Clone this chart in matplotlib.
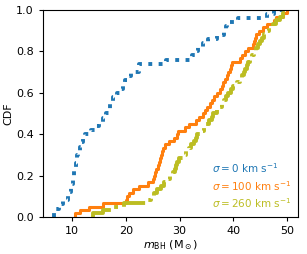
import numpy as np
import matplotlib
matplotlib.use("Agg")
import matplotlib.pyplot as plt

# sorted BH masses (Msun) for each velocity dispersion
m_sig0 = [6.7, 6.9, 7.5, 8.3, 9.3, 9.6, 9.8, 10.0, 10.1, 10.2,
          10.4, 10.6, 10.8, 10.9, 11.0, 11.2, 11.4, 11.7, 12.0, 12.5,
          13.5, 14.3, 15.0, 15.8, 16.3, 16.8, 17.0, 17.1, 17.6, 18.4,
          19.0, 19.5, 19.9, 20.3, 21.0, 22.4, 22.5, 27.5, 32.4, 32.8,
          33.5, 34.4, 35.2, 37.0, 38.2, 38.7, 38.9, 40.9, 46.3, 47.5]
m_sig100 = [10.5, 11.5, 13.2, 15.8, 20.0, 20.2, 20.6, 21.3, 22.5, 24.1,
            25.0, 25.2, 25.5, 25.7, 25.9, 26.1, 26.4, 26.6, 26.75, 26.85,
            27.3, 28.0, 29.0, 29.6, 29.8, 31.0, 31.8, 33.0, 33.6, 34.4,
            34.7, 35.1, 35.6, 36.0, 36.5, 37.0, 37.5, 37.9, 38.05, 38.4,
            38.8, 39.1, 39.4, 39.6, 39.8, 41.2, 41.7, 42.2, 42.7, 43.6,
            43.9, 44.1, 44.3, 44.8, 45.5, 46.2, 47.5, 48.0, 49.2, 50.0]
m_sig260 = [13.9, 15.8, 17.3, 19.6, 24.1, 24.6, 25.2, 25.8, 26.6, 27.1,
            27.6, 28.3, 28.8, 29.2, 29.4, 29.6, 29.9, 30.6, 31.2, 31.8,
            32.2, 32.7, 33.0, 33.3, 34.0, 34.6, 35.0, 35.5, 36.0, 36.2,
            37.0, 37.6, 37.9, 38.3, 38.7, 39.1, 39.5, 40.0, 40.6, 41.2,
            41.7, 42.0, 42.2, 42.5, 42.8, 43.1, 43.5, 43.9, 44.2, 44.5,
            44.9, 45.3, 45.7, 46.2, 46.7, 47.4, 48.0, 48.6, 49.2, 49.9]

labels = [r'$\sigma = 0$ km s$^{-1}$', r'$\sigma = 100$ km s$^{-1}$', r'$\sigma = 260$ km s$^{-1}$']
colors = ['tab:blue', 'tab:orange', 'tab:olive']
styles = [':', '-', '-.']
widths = [2.8, 2.2, 2.8]

mmax = max(max(m_sig0), max(m_sig100), max(m_sig260))

plt.rcParams['font.size'] = 8
fig = plt.figure(figsize=(3.07, 2.54), dpi=100)
ax = fig.add_axes([0.14, 0.146, 0.831, 0.815])

for m, lab, c, ls, lw in zip([m_sig0, m_sig100, m_sig260], labels, colors, styles, widths):
    m = np.sort(np.array(m))
    n = len(m)
    x = np.concatenate([[m[0]], m, [mmax]])
    y = np.concatenate([[0], np.arange(1, n + 1) / n, [1]])
    ax.step(x, y, where='post', color=c, ls=ls, lw=lw, label=lab)

ax.set_xlim(4.6, 52.05)
ax.set_ylim(0, 1)
ax.set_xticks([10, 20, 30, 40, 50])
ax.tick_params(length=3)
ax.set_xlabel(r'$m_{\rm BH}$ (M$_\odot$)', labelpad=2)
ax.set_ylabel('CDF', labelpad=2)

leg = ax.legend(loc='lower right', frameon=False, handlelength=0, handletextpad=0,
                fontsize=7.5, labelspacing=0.35, borderaxespad=0.25)
for t, c in zip(leg.get_texts(), colors):
    t.set_color(c)
for h in leg.legend_handles:
    h.set_visible(False)

fig.savefig('out.png', dpi=100)
